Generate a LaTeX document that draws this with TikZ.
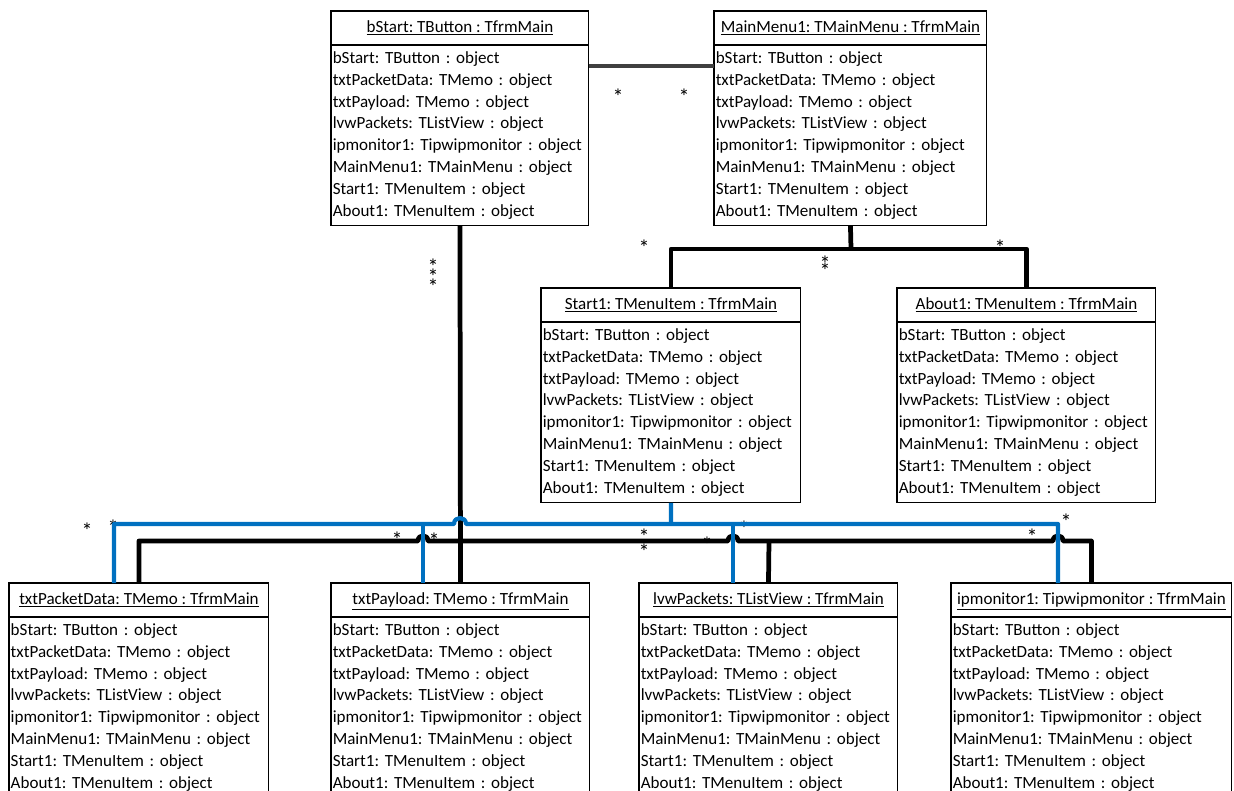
\documentclass[tikz,border=0pt]{standalone}
\usepackage{fontspec}
\setmainfont{Carlito}
\usetikzlibrary{positioning}
\frenchspacing
\hyphenpenalty=10000

\definecolor{linkblue}{RGB}{0,112,192}
\definecolor{linkgray}{RGB}{64,64,64}

\newcommand{\objlist}{bStart: TButton : object\\
txtPacketData: TMemo : object\\
txtPayload: TMemo : object\\
lvwPackets: TListView : object\\
ipmonitor1: Tipwipmonitor : object\\
MainMenu1: TMainMenu : object\\
Start1: TMenuItem : object\\
About1: TMenuItem : object}

\tikzset{
  titlebox/.style={draw, line width=0.6pt, minimum height=0.68cm, inner sep=0pt, outer sep=0pt,
    text height=7.2pt, text depth=2.4pt, font=\fontsize{9.7}{12}\selectfont},
  listbox/.style={draw, line width=0.6pt, align=left, minimum height=3.62cm, inner xsep=1pt,
    inner ysep=0pt, outer sep=0pt, font=\fontsize{9.7}{12.47}\selectfont},
  blackwire/.style={line width=2.7pt, line join=round},
  bluewire/.style={line width=2.4pt, linkblue, line join=round},
  graywire/.style={line width=2.2pt, linkgray},
  mult/.style={inner sep=0pt, font=\fontsize{12.5}{14}\selectfont},
}

\begin{document}
\begin{tikzpicture}[x=0.02cm, y=-0.02cm]
\useasboundingbox (0,0) rectangle (1234,791);
\clip (0,0) rectangle (1234,791);

% objects
\node[titlebox, minimum width=5.16cm, anchor=north west] (bs) at (331,11) {\underline{bStart: TButton : TfrmMain}};
\node[listbox, text width=5.09cm, below=0pt of bs] (bsl) {\objlist};
\node[titlebox, minimum width=5.46cm, anchor=north west] (mm) at (714,11) {\underline{MainMenu1: TMainMenu : TfrmMain}};
\node[listbox, text width=5.39cm, below=0pt of mm] (mml) {\objlist};
\node[titlebox, minimum width=5.20cm, anchor=north west] (st) at (541,288) {\underline{Start1: TMenuItem : TfrmMain}};
\node[listbox, text width=5.13cm, below=0pt of st] (stl) {\objlist};
\node[titlebox, minimum width=5.18cm, anchor=north west] (ab) at (897,288) {\underline{About1: TMenuItem : TfrmMain}};
\node[listbox, text width=5.11cm, below=0pt of ab] (abl) {\objlist};
\node[titlebox, minimum width=5.20cm, anchor=north west] (pdt) at (9,583) {\underline{txtPacketData: TMemo : TfrmMain}};
\node[listbox, text width=5.13cm, below=0pt of pdt] (pdtl) {\objlist};
\node[titlebox, minimum width=5.18cm, anchor=north west] (pay) at (331,583) {\underline{txtPayload: TMemo : TfrmMain}};
\node[listbox, text width=5.11cm, below=0pt of pay] (payl) {\objlist};
\node[titlebox, minimum width=5.18cm, anchor=north west] (lvw) at (639,583) {\underline{lvwPackets: TListView : TfrmMain}};
\node[listbox, text width=5.11cm, below=0pt of lvw] (lvwl) {\objlist};
\node[titlebox, minimum width=5.62cm, anchor=north west] (ipm) at (951,583) {\underline{ipmonitor1: Tipwipmonitor : TfrmMain}};
\node[listbox, text width=5.55cm, below=0pt of ipm] (ipml) {\objlist};

% multiplicities
\node[mult] (m1) at (618,97) {*};
\node[mult] (m2) at (684,97) {*};
\node[mult] (m3) at (433,267) {*};
\node[mult] (m4) at (433,277) {*};
\node[mult] (m5) at (433,287) {*};
\node[mult] (m6) at (644,248) {*};
\node[mult] (m7) at (1000,248) {*};
\node[mult] (m8) at (825,264) {*};
\node[mult] (m9) at (825,271) {*};
\node[mult] (m10) at (87,531) {*};
\node[mult] (m11) at (113,528) {*};
\node[mult] (m12) at (397,540) {*};
\node[mult] (m13) at (434,541) {*};
\node[mult] (m14) at (644,537) {*};
\node[mult] (m15) at (644,552) {*};
\node[mult] (m16) at (707,545) {*};
\node[mult] (m17) at (744,529) {*};
\node[mult] (m18) at (1032,537) {*};
\node[mult] (m19) at (1066,522) {*};

% bus points
\coordinate (mmj) at (851,249);
\coordinate (stj) at (671,524);
\coordinate (bj1) at (423,524);
\coordinate (bj2) at (733,524);
\coordinate (kj) at (769,541);

% links
\draw[graywire] (bsl.north east |- 0,66) -- (mml.north west |- 0,66);
\draw[blackwire] (bsl.south) -- (pay.north);
\draw[blackwire] (mml.south) -- (mmj);
\draw[blackwire] (st.north) |- (ab.north |- mmj) -- (ab.north);
\draw[blackwire] (pdt.north) |- (418,541) .. controls (418,534) and (428,534) .. (428,541)
  -- (728,541) .. controls (728,534) and (738,534) .. (738,541)
  -- (1053,541) .. controls (1053,534) and (1063,534) .. (1063,541) -| (ipm.north);
\draw[blackwire] (lvw.north) -- (kj);
\draw[bluewire] (pdt.north -| 114,0) |- (454,524) .. controls (454,516) and (466,516) .. (466,524)
  -| (ipm.north -| 1058,0);
\draw[bluewire] (stl.south) -- (stj);
\draw[bluewire] (bj1) -- (pay.north -| bj1);
\draw[bluewire] (bj2) -- (lvw.north -| bj2);
\end{tikzpicture}
\end{document}
